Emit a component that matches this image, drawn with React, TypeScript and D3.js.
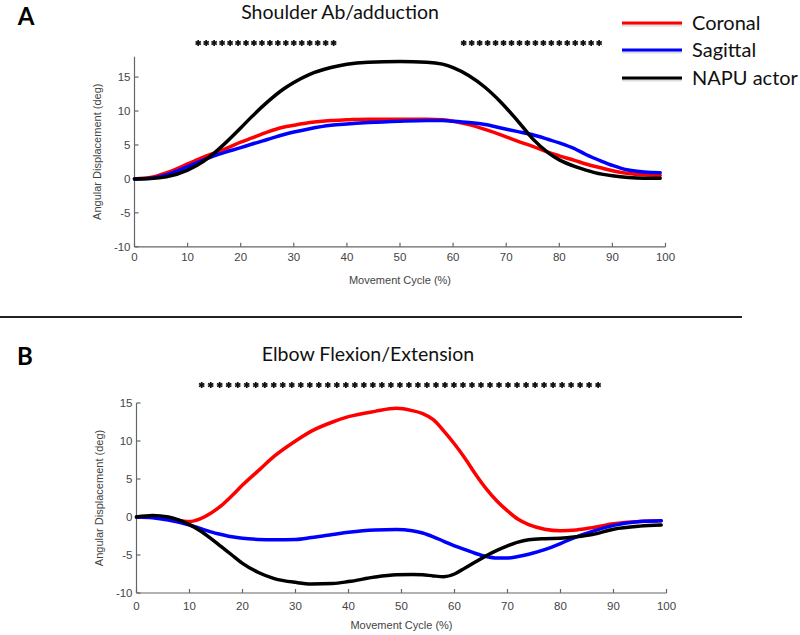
import React from "react";
import * as d3 from "d3";

// ---------- DATA ----------
const seriesNames = ["Coronal", "Sagittal", "NAPU actor"];
const seriesColors = ["#ff0000", "#0000ff", "#000000"];

// Panel A: Shoulder Ab/adduction
const shoulderX = [0, 3, 6, 10, 13, 15, 17, 20, 22, 25, 28, 30, 33, 37, 40, 44, 50, 55, 58, 60, 63, 66, 69, 72, 75, 78, 80, 83, 85, 88, 90, 93, 96, 99];
const shoulderCoronal = [0, 0.2, 0.9, 2.2, 3.2, 3.8, 4.4, 5.4, 6.0, 6.9, 7.6, 7.9, 8.3, 8.6, 8.7, 8.8, 8.8, 8.8, 8.7, 8.5, 8.0, 7.3, 6.5, 5.6, 4.8, 3.9, 3.4, 2.7, 2.2, 1.6, 1.2, 0.8, 0.6, 0.5];
const shoulderSagittal = [0, 0.1, 0.6, 1.8, 2.8, 3.4, 3.9, 4.6, 5.1, 5.8, 6.5, 6.9, 7.4, 7.9, 8.1, 8.3, 8.5, 8.6, 8.6, 8.5, 8.3, 8.0, 7.5, 7.0, 6.5, 5.8, 5.3, 4.4, 3.6, 2.6, 2.0, 1.3, 1.0, 0.9];
const shoulderNapu = [0, 0.05, 0.3, 1.3, 2.6, 3.8, 5.2, 7.5, 9.1, 11.3, 13.2, 14.2, 15.4, 16.4, 16.9, 17.2, 17.3, 17.2, 16.9, 16.4, 15.2, 13.5, 11.3, 8.7, 5.9, 3.8, 2.8, 1.8, 1.3, 0.7, 0.45, 0.2, 0.1, 0.1];

// Panel B: Elbow Flexion/Extension
const elbowX = [0, 3, 6, 10, 12, 14, 16, 18, 20, 23, 26, 30, 33, 37, 40, 45, 49, 52, 54, 56, 58, 60, 62, 64, 66, 68, 70, 72, 74, 77, 80, 83, 86, 90, 95, 99];
const elbowCoronal = [0, 0, -0.2, -0.6, -0.25, 0.5, 1.5, 2.8, 4.2, 6.1, 8.0, 10.0, 11.3, 12.5, 13.2, 13.9, 14.3, 14.0, 13.6, 12.8, 11.3, 9.6, 7.7, 5.6, 3.7, 2.1, 0.8, -0.3, -1.0, -1.6, -1.8, -1.7, -1.4, -0.9, -0.6, -0.5];
const elbowSagittal = [0, -0.1, -0.4, -1.05, -1.5, -1.95, -2.3, -2.6, -2.8, -2.95, -3.0, -2.95, -2.7, -2.3, -2.0, -1.7, -1.65, -1.8, -2.1, -2.6, -3.2, -3.8, -4.3, -4.8, -5.2, -5.4, -5.4, -5.2, -4.9, -4.3, -3.5, -2.6, -1.9, -1.1, -0.6, -0.5];
const elbowNapu = [0, 0.2, 0, -1.0, -1.8, -2.8, -3.9, -5.0, -6.1, -7.3, -8.1, -8.6, -8.8, -8.75, -8.5, -7.9, -7.6, -7.55, -7.6, -7.75, -7.85, -7.5, -6.7, -5.9, -5.1, -4.4, -3.8, -3.3, -3.0, -2.85, -2.8, -2.6, -2.3, -1.6, -1.2, -1.05];

// Significance markers (x positions, % of cycle)
const shoulderStars = [12, 13.5, 15, 16.5, 18, 19.5, 21, 22.5, 24, 25.5, 27, 28.5, 30, 31.5, 33, 34.5, 36, 37.5, 62, 63.5, 65, 66.5, 68, 69.5, 71, 72.5, 74, 75.5, 77, 78.5, 80, 81.5, 83, 84.5, 86, 87.5];
const elbowStars = [12.3, 14, 15.7, 17.4, 19.1, 20.8, 22.5, 24.2, 25.9, 27.6, 29.3, 31, 32.7, 34.4, 36.1, 37.8, 39.5, 41.2, 42.9, 44.6, 46.3, 48, 49.7, 51.4, 53.1, 54.8, 56.5, 58.2, 59.9, 61.6, 63.3, 65, 66.7, 68.4, 70.1, 71.8, 73.5, 75.2, 76.9, 78.6, 80.3, 82, 83.7, 85.4, 87.1];

const xTicks = [0, 10, 20, 30, 40, 50, 60, 70, 80, 90, 100];
const yTicksA = [-10, -5, 0, 5, 10, 15];
const yTicksB = [-10, -5, 0, 5, 10, 15];

const panelLabels = ["A", "B"];
const panelTitles = ["Shoulder Ab/adduction", "Elbow Flexion/Extension"];
const xLabel = "Movement Cycle (%)";
const yLabel = "Angular Displacement (deg)";

// ---------- COMPONENTS ----------
const tickFont = "'Liberation Sans', Arial, sans-serif";
const titleFont = "Lato, 'Open Sans', sans-serif";

type PanelProps = {
  xs: number[];
  series: number[][];
  stars: number[];
  starY: number;
  x: d3.ScaleLinear<number, number>;
  y: d3.ScaleLinear<number, number>;
  yTicks: number[];
  yTop: number;
  label: string;
  labelPos: [number, number];
  title: string;
  titlePos: [number, number];
  tickBaseline: number;
  xLabelBaseline: number;
  yLabelX: number;
};

function Panel(p: PanelProps) {
  const { x, y } = p;
  const y0 = y.range()[0];
  const x0 = x.range()[0];
  const x1 = x.range()[1];
  const star = d3.symbol().type(d3.symbolAsterisk).size(26)();
  return (
    <g>
      <text x={p.labelPos[0]} y={p.labelPos[1]} fontFamily={titleFont} fontWeight={700} fontSize={24} textAnchor="middle" fill="#000">{p.label}</text>
      <text x={p.titlePos[0]} y={p.titlePos[1]} fontFamily={titleFont} fontSize={19.5} textAnchor="middle" fill="#111">{p.title}</text>
      {p.stars.map((s, i) => (
        <path key={i} d={star as string} transform={`translate(${x(s)},${p.starY})`} stroke="#111" strokeWidth={1.7} fill="#111" />
      ))}
      {/* axes */}
      <line x1={x0} x2={x1} y1={y0} y2={y0} stroke="#666" strokeWidth={1.2} />
      <line x1={x0} x2={x0} y1={y0} y2={p.yTop} stroke="#666" strokeWidth={1.2} />
      {xTicks.map((t) => (
        <g key={t}>
          <line x1={x(t)} x2={x(t)} y1={y0} y2={y0 - 4} stroke="#666" strokeWidth={1.2} />
          <text x={x(t)} y={p.tickBaseline} fontFamily={tickFont} fontSize={11.5} textAnchor="middle" fill="#444">{t}</text>
        </g>
      ))}
      {p.yTicks.map((t) => (
        <g key={t}>
          <line x1={x0} x2={x0 + 4} y1={y(t)} y2={y(t)} stroke="#666" strokeWidth={1.2} />
          <text x={x0 - 4} y={y(t) + 4} fontFamily={tickFont} fontSize={11.5} textAnchor="end" fill="#444">{t}</text>
        </g>
      ))}
      <text x={(x0 + x1) / 2} y={p.xLabelBaseline} fontFamily={tickFont} fontSize={11} textAnchor="middle" fill="#444">{xLabel}</text>
      <text transform={`translate(${p.yLabelX},${(y0 + p.yTop) / 2}) rotate(-90)`} fontFamily={tickFont} fontSize={11} textAnchor="middle" fill="#444">{yLabel}</text>
      {p.series.map((vals, si) => {
        const line = d3
          .line<number>()
          .x((_, i) => x(p.xs[i]))
          .y((v) => y(v))
          .curve(d3.curveMonotoneX);
        return <path key={si} d={line(vals) as string} fill="none" stroke={seriesColors[si]} strokeWidth={3.5} strokeLinejoin="round" strokeLinecap="round" />;
      })}
    </g>
  );
}

export default function App() {
  const xA = d3.scaleLinear().domain([0, 100]).range([134.5, 665.5]);
  const yA = d3.scaleLinear().domain([-10, 18]).range([246.8, 56.7]);
  const xB = d3.scaleLinear().domain([0, 100]).range([136.5, 666.5]);
  const yB = d3.scaleLinear().domain([-10, 15]).range([593, 403]);
  const legendY = [23, 50, 78];

  return (
    <svg width={800} height={635} style={{ position: "absolute", left: 0, top: 0, background: "#fff" }}>
      <rect x={0} y={0} width={800} height={635} fill="#fff" />
      <Panel
        xs={shoulderX}
        series={[shoulderCoronal, shoulderSagittal, shoulderNapu]}
        stars={shoulderStars}
        starY={43}
        x={xA}
        y={yA}
        yTicks={yTicksA}
        yTop={yA(18)}
        label={panelLabels[0]}
        labelPos={[26, 25]}
        title={panelTitles[0]}
        titlePos={[340, 19]}
        tickBaseline={260.5}
        xLabelBaseline={284}
        yLabelX={101}
      />
      <line x1={0} x2={742} y1={317} y2={317} stroke="#222" strokeWidth={2} />
      <Panel
        xs={elbowX}
        series={[elbowCoronal, elbowSagittal, elbowNapu]}
        stars={elbowStars}
        starY={385}
        x={xB}
        y={yB}
        yTicks={yTicksB}
        yTop={yB(15)}
        label={panelLabels[1]}
        labelPos={[25, 365]}
        title={panelTitles[1]}
        titlePos={[368, 361]}
        tickBaseline={610}
        xLabelBaseline={629}
        yLabelX={103}
      />
      {/* legend */}
      {seriesNames.map((n, i) => (
        <g key={n}>
          <line x1={622} x2={682} y1={legendY[i] + 2} y2={legendY[i] + 2} stroke="#bbb" strokeWidth={3} opacity={0.5} />
          <line x1={622} x2={682} y1={legendY[i]} y2={legendY[i]} stroke={seriesColors[i]} strokeWidth={3} />
          <text x={692} y={legendY[i] + 7} fontFamily={titleFont} fontSize={20} fill="#111">{n}</text>
        </g>
      ))}
    </svg>
  );
}
